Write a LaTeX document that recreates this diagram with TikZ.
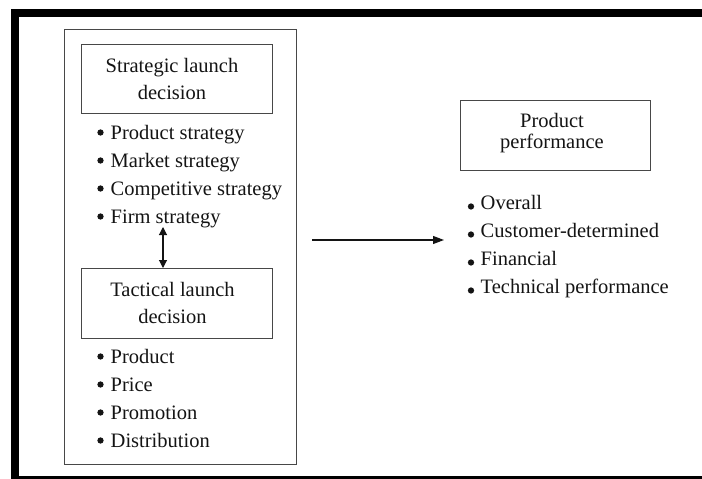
\documentclass[tikz,border=0pt]{standalone}
\usepackage{fontspec}
\setmainfont{Liberation Serif}
\usetikzlibrary{arrows.meta}
\definecolor{ink}{HTML}{141414}
\definecolor{rule}{HTML}{474747}
\begin{document}
\begin{tikzpicture}[x=1pt,y=-1pt,
  lbl/.style={font=\fontsize{20.5}{24}\selectfont, text=ink, inner sep=0pt, anchor=base},
  item/.style={lbl, anchor=base west},
  panel/.style={draw=rule, line width=1.1pt, inner sep=0pt, anchor=north west},
  dot/.style={circle, fill=ink, inner sep=0pt, minimum size=6.3pt},
  link/.style={draw=ink, line width=1.1pt},
  head/.style={-{Triangle[length=11pt,width=8pt]}},
  twohead/.style={{Triangle[length=8pt,width=8pt]}-{Triangle[length=8pt,width=8pt]}}]

% page frame
\useasboundingbox (0,0) rectangle (702,479);
\fill[black] (11,9) rectangle (702,17);
\fill[black] (11,9) rectangle (19,479);
\fill[black] (11,476) rectangle (702,479);

% launch decisions panel
\node[panel, minimum width=232pt, minimum height=435pt] (outer) at (64,29) {};

% strategic decision
\node[panel, minimum width=191pt, minimum height=69pt] (strat) at (80.5,44) {};
\node[lbl] (strat1) at (172,72) {Strategic launch};
\node[lbl] (strat2) at (172,99) {decision};
\foreach \t [count=\i] in {Product strategy, Market strategy, Competitive strategy, Firm strategy}{
  \node[dot] (sd\i) at (100.5,{139+28*(\i-1)-6.5}) {};
  \node[item] (si\i) at (110.5,{139+28*(\i-1)}) {\t};
}

% tactical decision
\node[panel, minimum width=191pt, minimum height=70pt] (tact) at (80.5,268) {};
\node[lbl] (tact1) at (172.5,296) {Tactical launch};
\node[lbl] (tact2) at (172.5,323) {decision};
\foreach \t [count=\i] in {Product, Price, Promotion, Distribution}{
  \node[dot] (td\i) at (100.5,{363+28*(\i-1)-6.5}) {};
  \node[item] (ti\i) at (110.5,{363+28*(\i-1)}) {\t};
}

% link between strategic and tactical decisions
\coordinate (lk) at (163,227);
\draw[link, twohead] (lk) -- (lk |- tact.north);

% product performance
\node[panel, minimum width=190pt, minimum height=70pt] (perf) at (460,100) {};
\node[lbl] (perf1) at (552,127) {Product};
\node[lbl] (perf2) at (552,148) {performance};
\foreach \t [count=\i] in {Overall, Customer-determined, Financial, Technical performance}{
  \node[dot] (pd\i) at (471,{209+28*(\i-1)-2.5}) {};
  \node[item] (pi\i) at (480.5,{209+28*(\i-1)}) {\t};
}

% effect of launch decisions on performance
\coordinate (from) at (312,240);
\coordinate (to) at (444,240);
\draw[link, head] (from) -- (to);
\end{tikzpicture}
\end{document}
